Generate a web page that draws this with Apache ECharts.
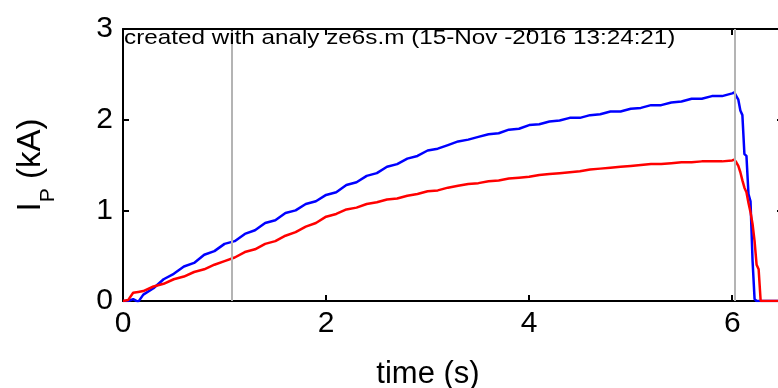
<!DOCTYPE html>
<html>
<head>
<meta charset="utf-8">
<script src="https://cdn.jsdelivr.net/npm/echarts@6/dist/echarts.min.js"></script>
<style>
  html, body { margin: 0; padding: 0; background: #fff; }
  #chart { width: 778px; height: 388px; }
</style>
</head>
<body>
<div id="chart"></div>
<script>
// Plasma current traces (kA) against time (s)
const timeS = [
  0, 0.05, 0.1, 0.15,
  0.2, 0.3, 0.4, 0.5, 0.6, 0.7, 0.8, 0.9, 1.0,
  1.1, 1.2, 1.3, 1.4, 1.5, 1.6, 1.7, 1.8, 1.9, 2.0,
  2.1, 2.2, 2.3, 2.4, 2.5, 2.6, 2.7, 2.8, 2.9, 3.0,
  3.1, 3.2, 3.3, 3.4, 3.5, 3.6, 3.7, 3.8, 3.9, 4.0,
  4.1, 4.2, 4.3, 4.4, 4.5, 4.6, 4.7, 4.8, 4.9, 5.0,
  5.1, 5.2, 5.3, 5.4, 5.5, 5.6, 5.7, 5.8, 5.9, 6.0,
  6.02, 6.04, 6.06, 6.08, 6.10, 6.12, 6.14, 6.16, 6.18, 6.20,
  6.22, 6.24, 6.26, 6.28, 6.30, 6.50
];
const currentBlue = [
  0.00, 0.00, 0.02, -0.01,
  0.07, 0.14, 0.24, 0.30, 0.38, 0.42, 0.51, 0.55, 0.63,
  0.66, 0.74, 0.78, 0.86, 0.89, 0.97, 1.00, 1.07, 1.10, 1.17,
  1.20, 1.28, 1.31, 1.38, 1.41, 1.48, 1.51, 1.57, 1.60, 1.66,
  1.68, 1.72, 1.76, 1.78, 1.81, 1.84, 1.85, 1.89, 1.90, 1.94,
  1.95, 1.98, 1.99, 2.02, 2.02, 2.05, 2.06, 2.09, 2.09, 2.12,
  2.13, 2.16, 2.16, 2.19, 2.20, 2.23, 2.23, 2.26, 2.26, 2.29,
  2.30, 2.26, 2.22, 2.10, 2.05, 1.62, 1.60, 1.18, 1.10, 0.45,
  0.02, 0.00, 0.00, 0.00, 0.00, 0.00
];
const currentRed = [
  0.00, 0.01, 0.09, 0.10,
  0.11, 0.16, 0.19, 0.24, 0.27, 0.32, 0.35, 0.40, 0.44,
  0.48, 0.54, 0.57, 0.63, 0.66, 0.72, 0.76, 0.82, 0.86, 0.93,
  0.96, 1.01, 1.03, 1.07, 1.09, 1.12, 1.13, 1.16, 1.18, 1.21,
  1.22, 1.25, 1.27, 1.29, 1.30, 1.32, 1.33, 1.35, 1.36, 1.37,
  1.39, 1.40, 1.41, 1.42, 1.43, 1.45, 1.46, 1.47, 1.48, 1.49,
  1.50, 1.51, 1.51, 1.52, 1.53, 1.53, 1.54, 1.54, 1.54, 1.55,
  1.56, 1.53, 1.49, 1.42, 1.33, 1.25, 1.20, 1.08, 0.98, 0.85,
  0.66, 0.40, 0.35, 0.00, 0.00, 0.00
];
// Vertical reference times (s)
const markerTimes = [1.07, 6.02];
const xTicks = [0, 2, 4, 6];
const yTicks = [0, 1, 2, 3];
const titleText = 'created with analy ze6s.m (15-Nov -2016 13:24:21)';

const FONT = '"Liberation Sans", Arial, Helvetica, sans-serif';
const pairs = (xs, ys) => xs.map((x, i) => [x, ys[i]]);

const frameAxis = {
  axisLine: { show: true, onZero: false, lineStyle: { color: '#000', width: 2 } },
  axisTick: { show: true, inside: true, length: 6, lineStyle: { color: '#000', width: 2 } },
  splitLine: { show: false }
};

const chart = echarts.init(document.getElementById('chart'), null, { renderer: 'canvas' });
chart.setOption({
  animation: false,
  backgroundColor: '#fff',
  // Annotation line inside the top-left of the axes, set with wide tracking
  graphic: [{
    type: 'text',
    x: 124, y: 28, scaleX: 1.155, z: 10,
    silent: true,
    style: {
      text: titleText,
      fontFamily: FONT, fontSize: 21, fill: '#000',
      align: 'left', verticalAlign: 'top'
    }
  }],
  grid: {
    left: 123, top: 29, width: 660, height: 272,
    containLabel: false, outerBoundsMode: 'none'
  },
  xAxis: [
    Object.assign({
      type: 'value', position: 'bottom',
      min: xTicks[0], max: 6.5, interval: xTicks[1] - xTicks[0],
      name: 'time (s)', nameLocation: 'middle', nameGap: 57,
      nameTextStyle: { fontFamily: FONT, fontSize: 31, color: '#000', lineHeight: 32, padding: [0, 50, 0, 0] },
      axisLabel: { show: true, fontFamily: FONT, fontSize: 30, color: '#000', margin: 8, showMaxLabel: false }
    }, frameAxis),
    Object.assign({
      type: 'value', position: 'top',
      min: xTicks[0], max: 6.5, interval: xTicks[1] - xTicks[0],
      axisLabel: { show: false }
    }, frameAxis)
  ],
  yAxis: [
    Object.assign({
      type: 'value', position: 'left',
      min: yTicks[0], max: yTicks[yTicks.length - 1], interval: yTicks[1] - yTicks[0],
      name: '{i|I}{s|P}{u| (kA)}', nameLocation: 'middle', nameRotate: 90, nameGap: 41,
      nameTextStyle: {
        fontFamily: FONT, color: '#000',
        rich: {
          i: { fontFamily: FONT, fontSize: 33, lineHeight: 34, verticalAlign: 'top', color: '#000' },
          u: { fontFamily: FONT, fontSize: 33, lineHeight: 34, verticalAlign: 'top', color: '#000' },
          s: { fontFamily: FONT, fontSize: 21, lineHeight: 68, verticalAlign: 'middle', color: '#000' }
        }
      },
      axisLabel: { show: true, fontFamily: FONT, fontSize: 30, color: '#000', margin: 10 }
    }, frameAxis),
    Object.assign({
      type: 'value', position: 'right',
      min: yTicks[0], max: yTicks[yTicks.length - 1], interval: yTicks[1] - yTicks[0],
      axisLabel: { show: false }
    }, frameAxis)
  ],
  series: [
    {
      type: 'line', xAxisIndex: 0, yAxisIndex: 0,
      data: pairs(timeS, currentBlue),
      showSymbol: false, symbol: 'none', z: 2,
      lineStyle: { color: '#0000ff', width: 2.5 }
    },
    {
      type: 'line', xAxisIndex: 0, yAxisIndex: 0,
      data: pairs(timeS, currentRed),
      showSymbol: false, symbol: 'none', z: 3,
      lineStyle: { color: '#ff0000', width: 2.5 }
    },
    {
      type: 'line', xAxisIndex: 0, yAxisIndex: 0,
      data: [], z: 5,
      markLine: {
        silent: true, symbol: 'none', animation: false,
        label: { show: false },
        lineStyle: { color: '#b4b4b4', width: 2, type: 'solid' },
        data: markerTimes.map(t => ({ xAxis: t }))
      }
    }
  ]
});
</script>
</body>
</html>
